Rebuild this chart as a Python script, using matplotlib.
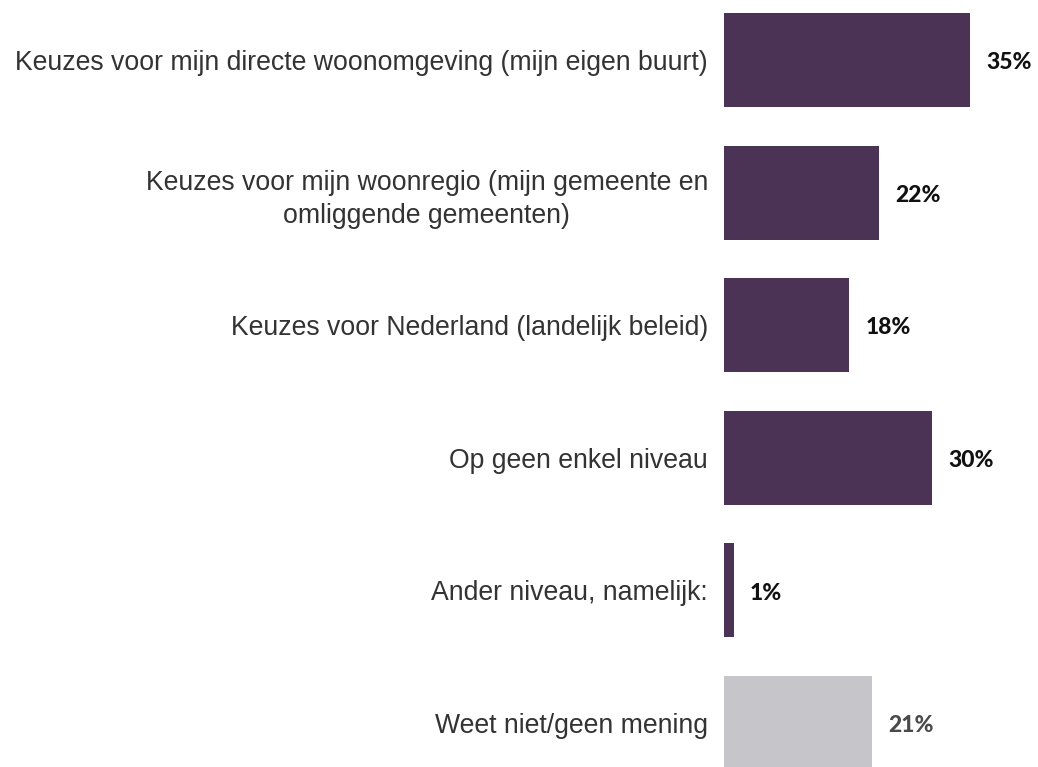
import matplotlib.pyplot as plt

# data
categories = [
    "Keuzes voor mijn directe woonomgeving (mijn eigen buurt)",
    "Keuzes voor mijn woonregio (mijn gemeente en\nomliggende gemeenten)",
    "Keuzes voor Nederland (landelijk beleid)",
    "Op geen enkel niveau",
    "Ander niveau, namelijk:",
    "Weet niet/geen mening",
]
values = [35, 22, 17.8, 29.6, 1.4, 21]
value_labels = ["35%", "22%", "18%", "30%", "1%", "21%"]
bar_colors = ["#4b3355"] * 5 + ["#c6c5ca"]
label_colors = ["#111111"] * 5 + ["#4a4a4a"]

W, H = 1038, 767
fig = plt.figure(figsize=(W / 100, H / 100), dpi=100)
ax = fig.add_axes([724 / W, 0, (W - 724) / W, 1])

pos = list(range(len(categories)))
ax.barh(pos, values, height=0.71, color=bar_colors)

ax.set_xlim(0, (W - 724) / 7.03)
ax.set_ylim(5.332, -0.4525)

ax.set_yticks(pos)
ax.set_yticklabels(categories, fontsize=19.2, family="Liberation Sans",
                   color="#333333", ha="right", multialignment="center",
                   linespacing=1.35)
ax.tick_params(axis="y", length=0, pad=11.5)
ax.set_xticks([])
for s in ax.spines.values():
    s.set_visible(False)

# value labels next to the bars
for p, v, t, c in zip(pos, values, value_labels, label_colors):
    ax.text(v + 2.3, p + 0.02, t, va="center", ha="left", fontsize=16.5,
            fontweight="black", family="Lato", color=c)

fig.savefig("out.png", dpi=100)
